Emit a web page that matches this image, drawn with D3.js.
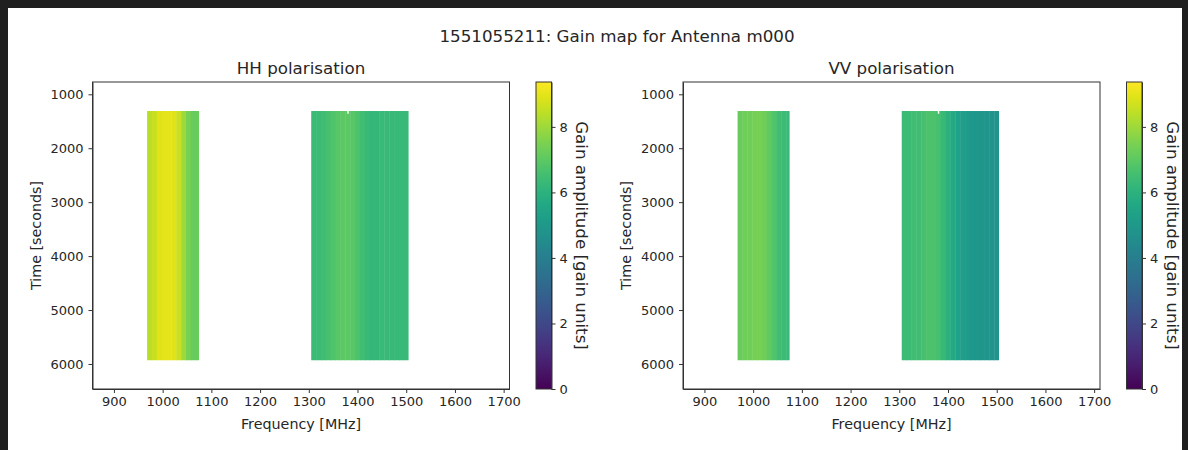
<!DOCTYPE html>
<html>
<head>
<meta charset="utf-8">
<script src="https://cdn.jsdelivr.net/npm/d3@7"></script>
<style>
  body { margin: 0; background: #1f1f1f; }
  svg text { font-family: "DejaVu Sans", sans-serif; fill: #262626; }
  .axis path, .axis line { stroke: #333; }
</style>
</head>
<body>
<div id="chart-area"></div>
<script>

// Data
var title = "1551055211: Gain map for Antenna m000";
var freqRange = [856, 1712];
var timeRange = [772, 6464];
var xTicks = [900, 1000, 1100, 1200, 1300, 1400, 1500, 1600, 1700];
var yTicks = [1000, 2000, 3000, 4000, 5000, 6000];
var cbarTicks = [0, 2, 4, 6, 8];
var gainMax = 9.37;

// time extent of the gain solutions
var timeStart = 1310, timeEnd = 5931;

// two frequency chunks, channel starts (MHz) and chunk ends
var chunkA = [968, 978, 988, 998, 1008, 1018, 1028, 1038, 1048, 1058, 1068];
var chunkAEnd = 1074;
var chunkB = [1305, 1315, 1325, 1335, 1345, 1355, 1365, 1375, 1385, 1395,
              1405, 1415, 1425, 1435, 1445, 1455, 1465, 1475, 1485, 1495];
var chunkBEnd = 1504;

// gain amplitude per channel
var hhA = [8.4, 8.6, 8.9, 9.0, 9.0, 8.9, 8.6, 8.0, 7.4, 7.2, 7.2];
var hhB = [6.4, 6.4, 6.5, 6.6, 6.8, 6.9, 7.0, 7.0, 6.9, 6.7,
           6.5, 6.3, 6.2, 6.2, 6.3, 6.3, 6.3, 6.3, 6.3, 6.3];
var vvA = [7.2, 7.3, 7.3, 7.4, 7.4, 7.3, 7.1, 6.8, 6.5, 6.4, 6.3];
var vvB = [6.4, 6.4, 6.5, 6.5, 6.6, 6.7, 6.7, 6.6, 6.3, 6.0,
           5.7, 5.4, 5.2, 5.1, 5.0, 5.0, 4.9, 4.9, 4.8, 4.8];

// flagged (blank) sample at the start of the second chunk
var flagged = {freq: [1379, 1382], time: [1310, 1360]};

var svg = d3.select("#chart-area").append("svg")
    .attr("width", 1188)
    .attr("height", 450)
    .style("display", "block");

svg.append("rect")
    .attr("x", 8).attr("y", 8)
    .attr("width", 1174).attr("height", 442)
    .attr("fill", "#fff");

svg.append("text")
    .attr("x", 617).attr("y", 42)
    .attr("text-anchor", "middle")
    .style("font-size", "16.7px")
    .text(title);

var color = d3.scaleSequential(d3.interpolateViridis).domain([0, gainMax]);

function channels(starts, end, vals) {
    return starts.map(function (f, i) {
        return {f0: f, f1: i < starts.length - 1 ? starts[i + 1] : end, g: vals[i]};
    });
}

var panels = [
    {name: "HH polarisation", left: 92.5, cbar: 536, data: channels(chunkA, chunkAEnd, hhA).concat(channels(chunkB, chunkBEnd, hhB))},
    {name: "VV polarisation", left: 683, cbar: 1126.5, data: channels(chunkA, chunkAEnd, vvA).concat(channels(chunkB, chunkBEnd, vvB))}
];

var plotW = 417, plotTop = 82, plotBottom = 389;

// colorbar gradient
var defs = svg.append("defs");
var grad = defs.append("linearGradient")
    .attr("id", "viridis")
    .attr("x1", 0).attr("y1", 1).attr("x2", 0).attr("y2", 0);
d3.range(0, 1.0001, 0.05).forEach(function (t) {
    grad.append("stop").attr("offset", t).attr("stop-color", d3.interpolateViridis(t));
});

panels.forEach(function (p) {
    var x = d3.scaleLinear().domain(freqRange).range([p.left, p.left + plotW]);
    var y = d3.scaleLinear().domain(timeRange).range([plotTop, plotBottom]);

    var g = svg.append("g");

    g.selectAll("rect.cell")
        .data(p.data)
        .enter().append("rect")
        .attr("class", "cell")
        .attr("x", function (d) { return x(d.f0); })
        .attr("width", function (d) { return x(d.f1) - x(d.f0) + 0.4; })
        .attr("y", y(timeStart))
        .attr("height", y(timeEnd) - y(timeStart))
        .attr("fill", function (d) { return color(d.g); });

    g.append("rect")
        .attr("x", x(flagged.freq[0]))
        .attr("width", x(flagged.freq[1]) - x(flagged.freq[0]))
        .attr("y", y(flagged.time[0]))
        .attr("height", y(flagged.time[1]) - y(flagged.time[0]))
        .attr("fill", "#fff");

    // axes
    g.append("g")
        .attr("class", "axis")
        .attr("transform", "translate(0," + plotBottom + ")")
        .call(d3.axisBottom(x).tickValues(xTicks).tickFormat(d3.format("d"))
            .tickSize(4).tickPadding(4).tickSizeOuter(0))
        .selectAll("text").style("font-size", "13px");

    g.append("g")
        .attr("class", "axis")
        .attr("transform", "translate(" + p.left + ",0)")
        .call(d3.axisLeft(y).tickValues(yTicks).tickFormat(d3.format("d"))
            .tickSize(4).tickPadding(5).tickSizeOuter(0))
        .selectAll("text").style("font-size", "13px");

    g.selectAll(".axis path").attr("stroke", "none");

    g.append("rect")
        .attr("x", p.left).attr("y", plotTop)
        .attr("width", plotW).attr("height", plotBottom - plotTop)
        .attr("fill", "none")
        .attr("stroke", "#333")
        .attr("stroke-width", 1);

    g.append("text")
        .attr("x", p.left + plotW / 2).attr("y", 74)
        .attr("text-anchor", "middle")
        .style("font-size", "16.7px")
        .text(p.name);

    g.append("text")
        .attr("x", p.left + plotW / 2).attr("y", 429)
        .attr("text-anchor", "middle")
        .style("font-size", "14.3px")
        .text("Frequency [MHz]");

    g.append("text")
        .attr("transform", "translate(" + (p.left - 52) + "," + ((plotTop + plotBottom) / 2) + ") rotate(-90)")
        .attr("text-anchor", "middle")
        .style("font-size", "14.3px")
        .text("Time [seconds]");

    // colorbar
    var cy = d3.scaleLinear().domain([0, gainMax]).range([plotBottom, plotTop]);
    var cw = 15.5;
    g.append("rect")
        .attr("x", p.cbar).attr("y", plotTop)
        .attr("width", cw).attr("height", plotBottom - plotTop)
        .attr("fill", "url(#viridis)")
        .attr("stroke", "#333");

    var cax = g.append("g")
        .attr("class", "axis")
        .attr("transform", "translate(" + (p.cbar + cw) + ",0)")
        .call(d3.axisRight(cy).tickValues(cbarTicks).tickSize(4).tickPadding(4).tickSizeOuter(0));
    cax.selectAll("text").style("font-size", "13px");
    cax.select("path").attr("stroke", "none");

    g.append("text")
        .attr("transform", "translate(" + (p.cbar + 40) + "," + ((plotTop + plotBottom) / 2) + ") rotate(90)")
        .attr("text-anchor", "middle")
        .style("font-size", "16.7px")
        .text("Gain amplitude [gain units]");
});

</script>
</body>
</html>
